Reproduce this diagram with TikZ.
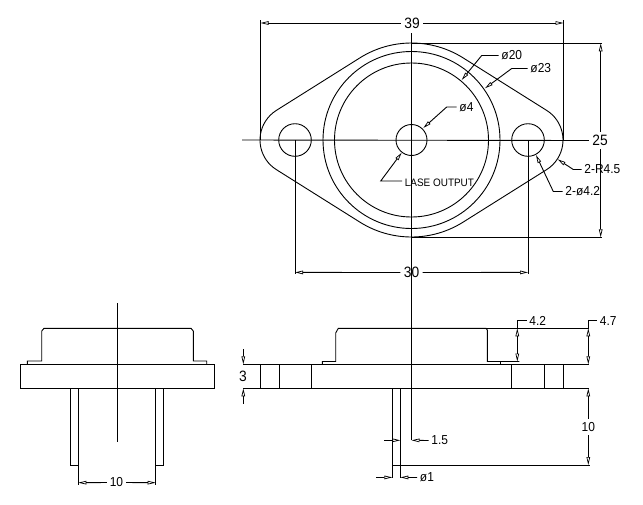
\documentclass[tikz,border=0pt]{standalone}
\usepackage{fontspec}
\setmainfont[FakeStretch=0.92]{Liberation Sans}
\usetikzlibrary{arrows.meta}
\tikzset{
  dimtip/.tip={Triangle[open,length=8pt,width=3.6pt,line width=.7pt]},
  lin/.style={draw=black,line width=.9pt,line cap=butt,line join=miter},
  lbl/.style={font=\fontsize{13}{13}\selectfont,inner sep=2.5pt,text=black},
  big/.style={font=\fontsize{15}{15}\selectfont,inner sep=3pt,text=black},
  tiny/.style={font=\fontsize{10.8}{11}\selectfont,inner sep=2.5pt,text=black},
}
\begin{document}
\begin{tikzpicture}[x=1pt,y=1pt,yscale=-1,every path/.append style={lin}]
\useasboundingbox[draw=none] (0,0) rectangle (643,504);
\fill[white,draw=none] (0,0) rectangle (643,504);
% ---- text nodes
\node[big] (n39) at (412,23) {39};
\node[big] (n25) at (600,140.5) {25};
\node[big] (n30) at (411.5,272.5) {30};
\node[lbl,anchor=west] (nd20) at (498.5,55.5) {ø20};
\node[lbl,anchor=west] (nd23) at (527.5,68.5) {ø23};
\node[lbl,anchor=west] (nd4) at (456.5,107) {ø4};
\node[tiny,anchor=west] (nlase) at (402,183) {LASE OUTPUT};
\node[lbl,anchor=west] (nh) at (562.5,191.5) {2-ø4.2};
\node[lbl,anchor=west] (nr) at (581.5,169.5) {2-R4.5};
\node[lbl] (n10a) at (116.5,482.5) {10};
\node[big] (n3) at (243,376.5) {3};
\node[lbl,anchor=west] (n42) at (526.5,321) {4.2};
\node[lbl,anchor=west] (n47) at (597,321) {4.7};
\node[lbl] (n10b) at (588.3,427) {10};
\node[lbl,anchor=west] (n15) at (428.5,440.5) {1.5};
\node[lbl,anchor=west] (nd1) at (417,477.5) {ø1};
% ---- top view
\draw (411.5,140) circle[radius=88.5];
\draw (411.5,140) circle[radius=77];
\draw (411.5,140) circle[radius=15.5];
\draw (295,140) circle[radius=16.3];
\draw (528,140) circle[radius=16.3];
\draw ([shift={(295,140)}]237.85:35) -- ([shift={(411.5,140)}]237.85:97)
  arc[start angle=237.85,end angle=302.15,radius=97]
  -- ([shift={(528,140)}]302.15:35)
  arc[start angle=302.15,end angle=417.85,radius=35]
  -- ([shift={(411.5,140)}]57.85:97)
  arc[start angle=57.85,end angle=122.15,radius=97]
  -- ([shift={(295,140)}]122.15:35)
  arc[start angle=122.15,end angle=237.85,radius=35] -- cycle;
% centre lines
\draw (242,140) -- (n25.west);
\draw (411.5,33) -- (411.5,440.3);
% 39
\draw (260.5,20) -- (260.5,140);
\draw (563.5,20) -- (563.5,140);
\draw[{dimtip}-] (260.5,23) -- (n39.west);
\draw[{dimtip}-] (563.5,23) -- (n39.east);
% 25
\draw (411.5,43.3) -- (602,43.3);
\draw (411.5,237.3) -- (602,237.3);
\draw[{dimtip}-] (600.7,43.3) -- (n25.north -| 600.7,0);
\draw[{dimtip}-] (600.7,237.3) -- (n25.south -| 600.7,0);
% 30
\draw (295,140) -- (295,273.5);
\draw (528,140) -- (528,273.5);
\draw[{dimtip}-] (295,272.4) -- (n30.west);
\draw[{dimtip}-] (528,272.4) -- (n30.east);
% leaders
\draw[{dimtip}-] (461.7,80) -- (481.7,55.5) -- (nd20.west);
\draw[{dimtip}-] (485,88.3) -- (511.7,68.5) -- (nd23.west);
\draw[{dimtip}-] (423.3,128) -- (446.7,107) -- (nd4.west);
\draw[{dimtip}-] (401.7,152.7) -- (380.7,181) -- (nlase.west |- 0,181);
\draw[{dimtip}-] (536,155) -- (553.3,191.5) -- (nh.west);
\draw[{dimtip}-] (557.7,159.3) -- (573.3,169.5) -- (nr.west);
% ---- left view
\draw (20.3,364.3) rectangle (214.3,388.5);
\draw (27.3,364.3) -- (27.3,361) -- (41.7,361) -- (41.7,331) -- (44,328.3)
  -- (191,328.3) -- (193.3,331) -- (193.3,361) -- (206.7,361) -- (206.7,364.3);
\draw (117.3,303) -- (117.3,442.3);
\draw (70.3,388.5) -- (70.3,465.7) -- (78.3,465.7);
\draw (78.3,388.5) -- (78.3,485);
\draw (163.7,388.5) -- (163.7,465.7) -- (155.7,465.7);
\draw (155.7,388.5) -- (155.7,485);
\draw[{dimtip}-] (78.3,482.7) -- (n10a.west);
\draw[{dimtip}-] (155.7,482.7) -- (n10a.east);
% ---- front view
\draw (243,364.3) -- (589,364.3);
\draw (243,388.4) -- (589,388.4);
\foreach \xx in {260.3,279.3,311.3,511.3,544.3,563.3}
  \draw (\xx,364.3) -- (\xx,388.4);
\draw (322.3,364.3) -- (322.3,361.5) -- (335.7,361.5) -- (335.7,333) -- (338.3,328.3)
  -- (486,328.3) -- (487.3,330) -- (487.3,361.5) -- (519.3,361.5);
\draw (486,328.3) -- (589,328.3);
\draw (500.3,361.5) -- (500.3,364.3);
% 3
\draw[{dimtip}-] (243.3,364.3) -- (243.3,349.3);
\draw[{dimtip}-] (243.3,388.4) -- (243.3,404);
% 4.2
\draw[{dimtip}-{dimtip}] (517.3,361.5) -- (517.3,328.3);
\draw (517.3,328.3) -- (517.3,320.7) -- (n42.west |- 0,320.7);
% 4.7
\draw[{dimtip}-{dimtip}] (588.3,364.3) -- (588.3,328.3);
\draw (588.3,328.3) -- (588.3,320.7) -- (n47.west |- 0,320.7);
% 10
\draw[{dimtip}-] (588.3,388.4) -- (n10b.north);
\draw[{dimtip}-] (588.3,465) -- (n10b.south);
\draw (392.3,465) -- (589.5,465);
% pins
\draw (392.3,388.4) -- (392.3,478.3);
\draw (400.3,388.4) -- (400.3,478.3);
% 1.5
\draw[-{dimtip}] (384,440.3) -- (400.3,440.3);
\draw[{dimtip}-] (411.5,440.3) -- (n15.west);
% d1
\draw[-{dimtip}] (376,477.4) -- (392.3,477.4);
\draw[{dimtip}-] (400.3,477.4) -- (nd1.west);
\end{tikzpicture}
\end{document}
